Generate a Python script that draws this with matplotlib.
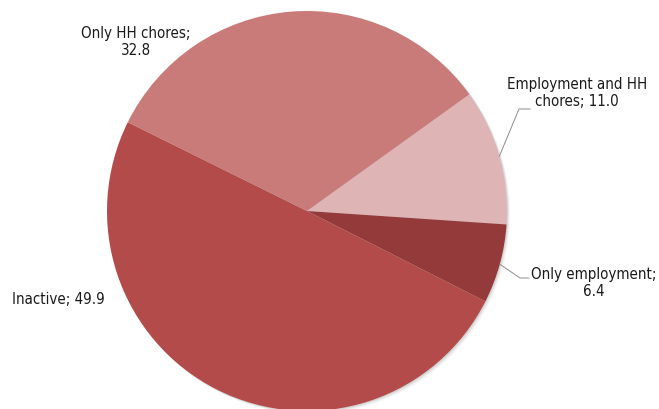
import numpy as np
import matplotlib.pyplot as plt
from matplotlib.patches import Circle

labels = ["Employment and HH\nchores", "Only employment", "Inactive", "Only HH chores"]
values = [11.0, 6.4, 49.9, 32.8]
colors = ["#dfb4b4", "#953a3a", "#b24b49", "#c97b7a"]

plt.rcParams["font.family"] = ["DejaVu Sans", "Liberation Sans"]

W, H = 659, 409
cx, cy, R = 307, 211, 200  # pie centre and radius in pixels


def px(x, y):
    return (x - cx) / R, (cy - y) / R


fig = plt.figure(figsize=(W / 100, H / 100), dpi=100)
ax = fig.add_axes([0, 0, 1, 1])

# soft shadow on the lower right of the pie
for k, a in [(3, 0.10), (2, 0.15), (1, 0.25)]:
    ax.add_patch(Circle((k / R, -k / R), 1.0, color="#9a9a9a", alpha=a, lw=0))

start = 35.7
ax.pie(values, colors=colors, startangle=start, counterclock=False,
       radius=1.0, center=(0, 0), frame=True, wedgeprops=dict(linewidth=0))
ax.axis("off")
ax.set_xlim(-cx / R, (W - cx) / R)
ax.set_ylim(-(H - cy) / R, cy / R)
ax.set_aspect("equal")

tk = dict(fontsize=10.8, fontstretch="condensed", color="#1a1a1a", linespacing=1.15)
ax.text(*px(136, 42), "Only HH chores;\n32.8", ha="center", va="center", **tk)
ax.text(*px(12, 300), "Inactive; 49.9", ha="left", va="center", **tk)
ax.text(*px(577, 93), "Employment and HH\nchores; 11.0", ha="center", va="center", **tk)
ax.text(*px(594, 283), "Only employment;\n6.4", ha="center", va="center", **tk)

# leader lines for the two small slices
cum = np.cumsum([0] + values)
for i, elbow_px, end_px in [(0, (519, 109), 530), (1, (520, 278), 529)]:
    mid = np.deg2rad(start - (cum[i] + values[i] / 2) * 3.6)
    x0, y0 = np.cos(mid), np.sin(mid)
    ex, ey = px(*elbow_px)
    fx, _ = px(end_px, elbow_px[1])
    ax.plot([x0, ex, fx], [y0, ey, ey], color="#8c8c8c", lw=0.7)

fig.savefig("out.png", dpi=100)
